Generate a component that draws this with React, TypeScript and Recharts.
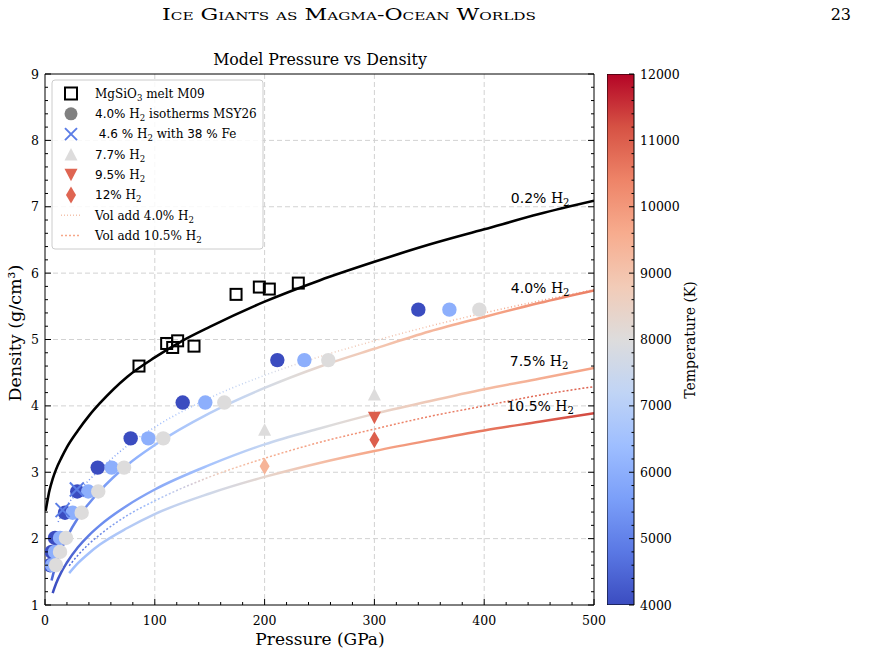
import React from "react";
import {
  ComposedChart,
  Line,
  Scatter,
  Bar,
  XAxis,
  YAxis,
  CartesianGrid,
  ReferenceDot,
} from "recharts";

const SERIF = '"DejaVu Serif", serif';
const SANS = '"DejaVu Sans", sans-serif';

const W = 871;
const H = 656;
const PLOT = { left: 45, top: 74, right: 594, bottom: 605 };
const P_MAX = 500;

// ---- data -----------------------------------------------------------------

// MgSiO3 melt, M09
const m09Pressure = [85.6, 110.8, 116.3, 120.8, 135.7, 174, 195.2, 204.3, 230.7];
const m09Density = [4.6, 4.94, 4.88, 4.98, 4.9, 5.68, 5.79, 5.76, 5.85];

// 4.0% H2 isotherms (MSY26): one density ladder, pressure per isotherm
const isoDensity = [1.6, 1.8, 2.01, 2.39, 2.71, 3.07, 3.51, 4.05, 4.69, 5.45];
const iso4000Pressure = [4.6, 6.1, 9.1, 18.2, 29.4, 48, 78, 125.4, 211.6, 340];
const iso6000Pressure = [6.6, 9.1, 13.7, 25.2, 39.4, 60.7, 94.1, 146, 236.2, 368.3];
const iso8000Pressure = [10, 13.7, 19.1, 33.4, 48.5, 72, 107.7, 163.3, 258, 395.6];
const isoTemps = [4000, 6000, 8000];

// 4.6 % H2 with 38 % Fe
const fePressure = [16, 29];
const feDensity = [2.43, 2.74];

// 7.7% / 9.5% / 12% H2 runs
const h77Pressure = [200, 300];
const h77Density = [3.64, 4.17];
const h77Temp = [8000, 8000];
const h95Pressure = [300];
const h95Density = [3.82];
const h95Temp = [11000];
const h12Pressure = [200, 300];
const h12Density = [3.09, 3.49];
const h12Temp = [9400, 11000];

// model curves
const c02Pressure = [0.6, 2, 4, 7, 10, 15, 20, 30, 40, 50, 75, 100, 125, 150, 200, 250, 300, 350, 400, 450, 500];
const c02Density = [2.42, 2.55, 2.72, 2.9, 3.04, 3.22, 3.38, 3.63, 3.85, 4.04, 4.44, 4.73, 4.98, 5.19, 5.57, 5.89, 6.17, 6.43, 6.66, 6.89, 7.09];

const c40Pressure = [6, 8, 10, 15, 20, 30, 40, 50, 75, 100, 150, 200, 250, 300, 350, 400, 450, 500];
const c40Density = [1.37, 1.5, 1.62, 1.84, 2.02, 2.31, 2.53, 2.72, 3.11, 3.41, 3.89, 4.27, 4.59, 4.86, 5.12, 5.34, 5.55, 5.74];

const c75Pressure = [7, 10, 15, 20, 30, 40, 50, 75, 100, 150, 200, 250, 300, 350, 400, 450, 500];
const c75Density = [1.18, 1.32, 1.5, 1.64, 1.87, 2.05, 2.2, 2.5, 2.74, 3.11, 3.42, 3.66, 3.88, 4.07, 4.25, 4.41, 4.57];

const c105Pressure = [22, 30, 40, 50, 75, 100, 150, 200, 250, 300, 350, 400, 450, 500];
const c105Density = [1.48, 1.63, 1.78, 1.91, 2.16, 2.37, 2.68, 2.93, 3.14, 3.32, 3.48, 3.63, 3.76, 3.89];

const vol40Pressure = [12, 15, 20, 30, 40, 50, 75, 100, 150, 200, 250, 300, 350, 400, 450, 500];
const vol40Density = [2.25, 2.36, 2.5, 2.7, 2.88, 3.04, 3.4, 3.68, 4.12, 4.46, 4.74, 4.98, 5.2, 5.4, 5.58, 5.75];

const vol105Pressure = [22, 30, 40, 50, 75, 100, 150, 200, 250, 300, 350, 400, 450, 500];
const vol105Density = [1.59, 1.75, 1.92, 2.06, 2.35, 2.57, 2.93, 3.21, 3.45, 3.65, 3.84, 4.0, 4.16, 4.29];

// colour bar span (K)
const tempRange = [4000, 12000];

// axis ticks
const xTickLabels = [0, 100, 200, 300, 400, 500];
const yTickLabels = [1, 2, 3, 4, 5, 6, 7, 8, 9];
const tempTickLabels = [4000, 5000, 6000, 7000, 8000, 9000, 10000, 11000, 12000];

// ---- helpers ----------------------------------------------------------------

type Pt = { p: number; d: number; t?: number };
const zip = (ps: number[], ds: number[], ts?: number[]): Pt[] =>
  ps.map((p, i) => ({ p, d: ds[i], t: ts ? ts[i] : undefined }));

const m09 = zip(m09Pressure, m09Density);
const iso = [iso4000Pressure, iso6000Pressure, iso8000Pressure].flatMap((ps, k) =>
  zip(ps, isoDensity, ps.map(() => isoTemps[k]))
);
const fe = zip(fePressure, feDensity);
const h77 = zip(h77Pressure, h77Density, h77Temp);
const h95 = zip(h95Pressure, h95Density, h95Temp);
const h12 = zip(h12Pressure, h12Density, h12Temp);
const cbarData = [{ name: "T", span: tempRange }];

// minor ticks fill in between the labelled ones
const between = (labels: number[], parts: number) => {
  const out: number[] = [];
  labels.forEach((v, i) => {
    out.push(v);
    if (i < labels.length - 1) {
      const step = (labels[i + 1] - v) / parts;
      for (let k = 1; k < parts; k++) out.push(Math.round((v + k * step) * 1000) / 1000);
    }
  });
  return out;
};
const xTicks = between(xTickLabels, 5);
const yTicks = between(yTickLabels, 5);
const tTicks = between(tempTickLabels, 5);
const isLabel = (labels: number[], v: number) => labels.includes(v);

const COOLWARM = [
  "#3b4cc0", "#5a78e4", "#7b9ff9", "#9ebeff", "#c0d4f5", "#dddcdc",
  "#f2cbb7", "#f7ac8e", "#ee8468", "#d65244", "#b40426",
];
const hex = (h: string) => [1, 3, 5].map((i) => parseInt(h.slice(i, i + 2), 16));
function tempColor(t: number) {
  const f = Math.min(1, Math.max(0, (t - 4000) / 8000)) * 10;
  const i = Math.min(9, Math.floor(f));
  const u = f - i;
  const a = hex(COOLWARM[i]);
  const b = hex(COOLWARM[i + 1]);
  const c = a.map((v, k) => Math.round(v + (b[k] - v) * u));
  return `rgb(${c[0]},${c[1]},${c[2]})`;
}

// temperature along each model curve, as [pressure, T]
const shade40 = [[6, 4500], [50, 5500], [100, 6400], [175, 7300], [220, 8000], [300, 8900], [400, 9700], [500, 10500]];
const shade75 = [[7, 4000], [50, 5200], [150, 6600], [200, 7300], [260, 8000], [300, 8400], [400, 9200], [500, 9800]];
const shade105 = [[22, 6400], [150, 7600], [200, 8300], [250, 9100], [300, 9700], [400, 10600], [500, 11300]];
const shadeVol40 = [[12, 5000], [100, 6300], [200, 7500], [250, 8600], [400, 9500], [500, 10400]];
const shadeVol105 = [[22, 4600], [100, 6600], [160, 8800], [200, 9500], [300, 10300], [500, 11000]];

function CurveGradient({ id, stops }: { id: string; stops: number[][] }) {
  return (
    <linearGradient id={id} gradientUnits="userSpaceOnUse" x1={PLOT.left} y1={0} x2={PLOT.right} y2={0}>
      {stops.map(([p, t]) => (
        <stop key={p} offset={p / P_MAX} stopColor={tempColor(t)} />
      ))}
    </linearGradient>
  );
}

// ---- ticks ------------------------------------------------------------------

const TICK_FS = 12.5;

const BottomTick = (props: any) => {
  const { x, payload } = props;
  const v = payload.value;
  const major = isLabel(xTickLabels, v);
  return (
    <g>
      <line x1={x} x2={x} y1={PLOT.bottom} y2={PLOT.bottom - (major ? 6 : 3)} stroke="#000" />
      {major && (
        <text x={x} y={PLOT.bottom + 20} textAnchor="middle" fontFamily={SERIF} fontSize={TICK_FS} fill="#000">
          {v}
        </text>
      )}
    </g>
  );
};

const TopTick = (props: any) => {
  const { x, payload } = props;
  const major = isLabel(xTickLabels, payload.value);
  return <line x1={x} x2={x} y1={PLOT.top} y2={PLOT.top + (major ? 6 : 3)} stroke="#000" />;
};

const LeftTick = (props: any) => {
  const { y, payload } = props;
  const v = payload.value;
  const major = isLabel(yTickLabels, v);
  return (
    <g>
      <line x1={PLOT.left} x2={PLOT.left + (major ? 6 : 3)} y1={y} y2={y} stroke="#000" />
      {major && (
        <text x={PLOT.left - 6} y={y} dy={4.5} textAnchor="end" fontFamily={SERIF} fontSize={TICK_FS} fill="#000">
          {v}
        </text>
      )}
    </g>
  );
};

const RightTick = (props: any) => {
  const { y, payload } = props;
  const major = isLabel(yTickLabels, payload.value);
  return <line x1={PLOT.right} x2={PLOT.right - (major ? 6 : 3)} y1={y} y2={y} stroke="#000" />;
};

const CBAR_W = 27;
const CBAR_CHART_W = 110;
const TempTick = (props: any) => {
  const { y, payload } = props;
  const v = payload.value;
  const major = isLabel(tempTickLabels, v);
  return (
    <g>
      <line x1={CBAR_W} x2={CBAR_W - (major ? 5 : 2.5)} y1={y} y2={y} stroke="#000" />
      {major && (
        <text x={CBAR_W + 6} y={y} dy={4.5} textAnchor="start" fontFamily={SERIF} fontSize={TICK_FS} fill="#000">
          {v}
        </text>
      )}
    </g>
  );
};

// ---- markers ----------------------------------------------------------------

const IsoDot = (p: any) => <circle cx={p.cx} cy={p.cy} r={7.2} fill={tempColor(p.payload.t)} />;
const OpenSquare = (p: any) => (
  <rect x={p.cx - 5.5} y={p.cy - 5.5} width={11} height={11} fill="none" stroke="#000" strokeWidth={2} />
);
const FE_BLUE = "#5b7de6";
const Cross = (p: any) => (
  <g stroke={FE_BLUE} strokeWidth={2}>
    <line x1={p.cx - 7} y1={p.cy - 7} x2={p.cx + 7} y2={p.cy + 7} />
    <line x1={p.cx - 7} y1={p.cy + 7} x2={p.cx + 7} y2={p.cy - 7} />
  </g>
);
const triUp = (cx: number, cy: number) => `${cx},${cy - 6.5} ${cx - 6.5},${cy + 6} ${cx + 6.5},${cy + 6}`;
const triDown = (cx: number, cy: number) => `${cx},${cy + 6.5} ${cx - 6.5},${cy - 6} ${cx + 6.5},${cy - 6}`;
const thinDiamond = (cx: number, cy: number) => `${cx},${cy - 8.5} ${cx + 5},${cy} ${cx},${cy + 8.5} ${cx - 5},${cy}`;
const TriUp = (p: any) => <polygon points={triUp(p.cx, p.cy)} fill={tempColor(p.payload.t)} />;
const TriDown = (p: any) => <polygon points={triDown(p.cx, p.cy)} fill={tempColor(p.payload.t)} />;
const Diamond = (p: any) => <polygon points={thinDiamond(p.cx, p.cy)} fill={tempColor(p.payload.t)} />;

// "x.x% H2" style label: percentage in sans, H2 in serif with subscript
function H2Text({ pct, rest, pctSans = true }: { pct: string; rest?: string; pctSans?: boolean }) {
  return (
    <>
      <tspan fontFamily={pctSans ? SANS : SERIF}>{pct}</tspan>
      <tspan> H</tspan>
      <tspan dy={3} fontSize="72%">2</tspan>
      {rest && <tspan dy={-3}>{rest}</tspan>}
    </>
  );
}

const CurveTag = ({ cx, cy, pct }: { cx: number; cy: number; pct: string }) => (
  <text x={cx} y={cy + 4} textAnchor="middle" fontFamily={SERIF} fontSize={14} fill="#000" style={{ whiteSpace: "pre" }}>
    <H2Text pct={pct} />
  </text>
);

// curve tags sit at these (pressure, density) spots
const curveTags = [
  { pct: "0.2%", p: 451, d: 7.12 },
  { pct: "4.0%", p: 451, d: 5.76 },
  { pct: "7.5%", p: 450, d: 4.66 },
  { pct: "10.5%", p: 451, d: 3.99 },
];

// ---- legend -----------------------------------------------------------------

const LEG = { x: 52, y: 80, w: 211, h: 169, row0: 93.5, gap: 20.3, iconX: 71, textX: 95, fs: 12 };

function Legend() {
  const ry = (i: number) => LEG.row0 + i * LEG.gap;
  const tx = (i: number, children: React.ReactNode) => (
    <text x={LEG.textX} y={ry(i) + 4.3} fontFamily={SERIF} fontSize={LEG.fs} fill="#000" style={{ whiteSpace: "pre" }}>
      {children}
    </text>
  );
  const ix = LEG.iconX;
  return (
    <g>
      <rect x={LEG.x} y={LEG.y} width={LEG.w} height={LEG.h} rx={3} fill="#fff" fillOpacity={0.85} stroke="#cccccc" />
      <rect x={ix - 6} y={ry(0) - 6} width={12} height={12} fill="#fff" stroke="#000" strokeWidth={2} />
      {tx(0, <>
        <tspan>MgSiO</tspan>
        <tspan dy={3} fontSize="72%">3</tspan>
        <tspan dy={-3}> melt M09</tspan>
      </>)}
      <circle cx={ix} cy={ry(1)} r={6.5} fill="#808080" />
      {tx(1, <H2Text pct="4.0%" rest=" isotherms MSY26" />)}
      <g stroke={FE_BLUE} strokeWidth={2}>
        <line x1={ix - 6} y1={ry(2) - 6} x2={ix + 6} y2={ry(2) + 6} />
        <line x1={ix - 6} y1={ry(2) + 6} x2={ix + 6} y2={ry(2) - 6} />
      </g>
      {tx(2, <>
        <tspan fontFamily={SANS}> 4.6 %</tspan>
        <tspan> H</tspan>
        <tspan dy={3} fontSize="72%">2</tspan>
        <tspan dy={-3}> with </tspan>
        <tspan fontFamily={SANS}>38 %</tspan>
        <tspan> Fe</tspan>
      </>)}
      <polygon points={triUp(ix, ry(3))} fill={tempColor(8000)} />
      {tx(3, <H2Text pct="7.7%" />)}
      <polygon points={triDown(ix, ry(4))} fill={tempColor(10900)} />
      {tx(4, <H2Text pct="9.5%" />)}
      <polygon points={thinDiamond(ix, ry(5))} fill={tempColor(10900)} />
      {tx(5, <H2Text pct="12%" />)}
      <line x1={ix - 10} x2={ix + 10} y1={ry(6)} y2={ry(6)} stroke={tempColor(9000)} strokeWidth={1.5} strokeDasharray="1 2" />
      {tx(6, <H2Text pct="Vol add 4.0%" pctSans={false} />)}
      <line x1={ix - 10} x2={ix + 10} y1={ry(7)} y2={ry(7)} stroke={tempColor(9700)} strokeWidth={1.5} strokeDasharray="2 2" />
      {tx(7, <H2Text pct="Vol add 10.5%" pctSans={false} />)}
    </g>
  );
}

// ---- app --------------------------------------------------------------------

export default function App() {
  const line = (data: Pt[], stroke: string, width: number, dash?: string) => (
    <Line
      data={data}
      dataKey="d"
      type="monotone"
      stroke={stroke}
      strokeWidth={width}
      strokeDasharray={dash}
      dot={false}
      activeDot={false}
      isAnimationActive={false}
    />
  );

  // axes are 1px thick so they still render; the plot box stays at PLOT
  return (
    <div style={{ position: "absolute", left: 0, top: 0, width: W, height: H, background: "#fff" }}>
      <ComposedChart
        width={W}
        height={H}
        margin={{ top: PLOT.top - 1, right: W - PLOT.right - 1, bottom: H - PLOT.bottom - 1, left: PLOT.left - 1 }}
      >
        <defs>
          <CurveGradient id="g40" stops={shade40} />
          <CurveGradient id="g75" stops={shade75} />
          <CurveGradient id="g105" stops={shade105} />
          <CurveGradient id="gv40" stops={shadeVol40} />
          <CurveGradient id="gv105" stops={shadeVol105} />
        </defs>
        <CartesianGrid
          verticalValues={[100, 200, 300, 400]}
          horizontalValues={[2, 3, 4, 5, 6, 7, 8]}
          stroke="#d2d2d2"
          strokeDasharray="5 3"
        />
        <XAxis
          dataKey="p"
          type="number"
          domain={[0, P_MAX]}
          ticks={xTicks}
          interval={0}
          height={1}
          tickLine={false}
          axisLine={{ stroke: "#000" }}
          tick={BottomTick}
          allowDataOverflow
        />
        <XAxis
          xAxisId="top"
          orientation="top"
          type="number"
          domain={[0, P_MAX]}
          ticks={xTicks}
          interval={0}
          height={1}
          tickLine={false}
          axisLine={{ stroke: "#000" }}
          tick={TopTick}
          allowDataOverflow
        />
        <YAxis
          type="number"
          domain={[1, 9]}
          ticks={yTicks}
          interval={0}
          width={1}
          tickLine={false}
          axisLine={{ stroke: "#000" }}
          tick={LeftTick}
          allowDataOverflow
        />
        <YAxis
          yAxisId="right"
          orientation="right"
          type="number"
          domain={[1, 9]}
          ticks={yTicks}
          interval={0}
          width={1}
          tickLine={false}
          axisLine={{ stroke: "#000" }}
          tick={RightTick}
          allowDataOverflow
        />

        {line(zip(c02Pressure, c02Density), "#000", 2.6)}
        {line(zip(c105Pressure, c105Density), "url(#g105)", 2.5)}
        {line(zip(c75Pressure, c75Density), "url(#g75)", 2.5)}
        {line(zip(c40Pressure, c40Density), "url(#g40)", 2.5)}
        {line(zip(vol105Pressure, vol105Density), "url(#gv105)", 1.5, "2 2")}
        {line(zip(vol40Pressure, vol40Density), "url(#gv40)", 1.5, "1 2.5")}

        <Scatter data={iso} dataKey="d" shape={IsoDot} isAnimationActive={false} />
        <Scatter data={m09} dataKey="d" shape={OpenSquare} isAnimationActive={false} />
        <Scatter data={fe} dataKey="d" shape={Cross} isAnimationActive={false} />
        <Scatter data={h77} dataKey="d" shape={TriUp} isAnimationActive={false} />
        <Scatter data={h95} dataKey="d" shape={TriDown} isAnimationActive={false} />
        <Scatter data={h12} dataKey="d" shape={Diamond} isAnimationActive={false} />

        {curveTags.map((c) => (
          <ReferenceDot
            key={c.pct}
            x={c.p}
            y={c.d}
            r={0}
            ifOverflow="visible"
            shape={(s: any) => <CurveTag cx={s.cx} cy={s.cy} pct={c.pct} />}
          />
        ))}
      </ComposedChart>

      {/* temperature colour bar: one range bar spanning the colour scale */}
      <div style={{ position: "absolute", left: 607, top: 0 }}>
        <ComposedChart
          width={CBAR_CHART_W}
          height={H}
          data={cbarData}
          barCategoryGap={0}
          margin={{ top: PLOT.top, right: CBAR_CHART_W - CBAR_W - 1, bottom: H - PLOT.bottom, left: 0 }}
        >
          <defs>
            <linearGradient id="cbar" x1="0" y1="1" x2="0" y2="0">
              {COOLWARM.map((c, i) => (
                <stop key={i} offset={i / 10} stopColor={c} />
              ))}
            </linearGradient>
          </defs>
          <XAxis dataKey="name" type="category" hide />
          <YAxis
            orientation="right"
            type="number"
            domain={tempRange}
            ticks={tTicks}
            interval={0}
            width={1}
            tickLine={false}
            axisLine={false}
            tick={TempTick}
            allowDataOverflow
          />
          <Bar dataKey="span" fill="url(#cbar)" stroke="#000" strokeWidth={1} isAnimationActive={false} />
        </ComposedChart>
      </div>

      {/* page header, titles, legend */}
      <svg width={W} height={H} style={{ position: "absolute", left: 0, top: 0, pointerEvents: "none" }}>
        <text
          x={349}
          y={20}
          textAnchor="middle"
          fontFamily={SERIF}
          fontSize={16}
          fontVariant="small-caps"
          textLength={374}
          lengthAdjust="spacingAndGlyphs"
          fill="#000"
        >
          Ice Giants as Magma-Ocean Worlds
        </text>
        <text x={851} y={20} textAnchor="end" fontFamily={SERIF} fontSize={16} fill="#000">
          23
        </text>
        <text x={320} y={65} textAnchor="middle" fontFamily={SERIF} fontSize={15.8} fill="#000">
          Model Pressure vs Density
        </text>
        <text x={320} y={645} textAnchor="middle" fontFamily={SERIF} fontSize={17} fill="#000">
          Pressure (GPa)
        </text>
        <text
          transform="translate(21 333) rotate(-90)"
          textAnchor="middle"
          fontFamily={SERIF}
          fontSize={17.5}
          fill="#000"
        >
          Density (g/cm³)
        </text>
        <text
          transform="translate(695 340) rotate(-90)"
          textAnchor="middle"
          fontFamily={SERIF}
          fontSize={14}
          fill="#000"
        >
          Temperature (K)
        </text>
        <Legend />
      </svg>
    </div>
  );
}
